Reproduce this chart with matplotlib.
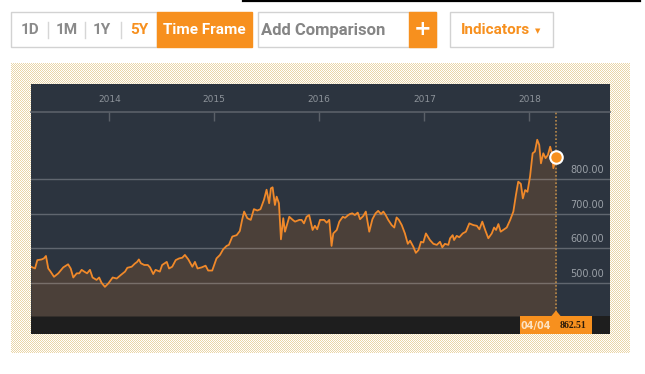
import numpy as np
import pandas as pd
import matplotlib
matplotlib.use("Agg")
import matplotlib.pyplot as plt
import matplotlib.transforms as mtransforms
from matplotlib.patches import Rectangle, Polygon

# price series (5Y, weekly-ish)
dates = [
    "2013-04-04", "2013-04-18", "2013-04-26", "2013-05-11", "2013-05-19", "2013-05-26",
    "2013-06-03", "2013-06-11", "2013-06-23", "2013-07-08", "2013-07-25", "2013-08-11",
    "2013-08-20", "2013-08-29", "2013-09-10", "2013-09-19", "2013-09-27", "2013-10-06",
    "2013-10-16", "2013-10-26", "2013-11-04", "2013-11-18", "2013-11-27", "2013-12-05",
    "2013-12-17", "2013-12-29", "2014-01-13", "2014-01-27", "2014-02-10", "2014-02-25",
    "2014-03-05", "2014-03-20", "2014-03-31", "2014-04-08", "2014-04-14", "2014-04-21",
    "2014-05-03", "2014-05-15", "2014-05-23", "2014-06-03", "2014-06-11", "2014-06-26",
    "2014-07-04", "2014-07-20", "2014-07-28", "2014-08-08", "2014-08-20", "2014-09-01",
    "2014-09-12", "2014-09-21", "2014-10-03", "2014-10-17", "2014-10-26", "2014-11-04",
    "2014-11-18", "2014-12-02", "2014-12-11", "2014-12-25", "2015-01-09", "2015-01-21",
    "2015-02-01", "2015-02-13", "2015-02-21", "2015-03-05", "2015-03-20", "2015-03-31",
    "2015-04-08", "2015-04-15", "2015-04-26", "2015-05-08", "2015-05-19", "2015-05-31",
    "2015-06-11", "2015-06-23", "2015-07-02", "2015-07-11", "2015-07-17", "2015-07-23",
    "2015-07-31", "2015-08-06", "2015-08-14", "2015-08-21", "2015-08-29", "2015-09-04",
    "2015-09-19", "2015-10-01", "2015-10-09", "2015-10-24", "2015-11-01", "2015-11-09",
    "2015-11-18", "2015-11-27", "2015-12-09", "2015-12-17", "2015-12-25", "2016-01-04",
    "2016-01-18", "2016-01-27", "2016-02-05", "2016-02-13", "2016-02-19", "2016-03-02",
    "2016-03-11", "2016-03-23", "2016-03-31", "2016-04-11", "2016-04-17", "2016-04-25",
    "2016-05-04", "2016-05-14", "2016-05-22", "2016-06-02", "2016-06-11", "2016-06-23",
    "2016-07-04", "2016-07-15", "2016-07-24", "2016-08-03", "2016-08-11", "2016-08-19",
    "2016-08-28", "2016-09-09", "2016-09-18", "2016-09-26", "2016-10-04", "2016-10-14",
    "2016-10-25", "2016-11-04", "2016-11-12", "2016-11-23", "2016-12-02", "2016-12-11",
    "2016-12-20", "2016-12-28", "2017-01-06", "2017-01-20", "2017-02-01", "2017-02-13",
    "2017-02-24", "2017-03-04", "2017-03-13", "2017-03-25", "2017-03-31", "2017-04-09",
    "2017-04-14", "2017-04-23", "2017-05-02", "2017-05-14", "2017-05-25", "2017-06-06",
    "2017-06-20", "2017-07-02", "2017-07-11", "2017-07-21", "2017-07-31", "2017-08-11",
    "2017-08-23", "2017-08-31", "2017-09-07", "2017-09-15", "2017-09-23", "2017-10-02",
    "2017-10-14", "2017-10-26", "2017-11-06", "2017-11-15", "2017-11-23", "2017-12-02",
    "2017-12-09", "2017-12-17", "2017-12-25", "2018-01-03", "2018-01-12", "2018-01-20",
    "2018-01-28", "2018-02-04", "2018-02-10", "2018-02-18", "2018-02-26", "2018-03-06",
    "2018-03-14", "2018-03-20", "2018-03-25", "2018-04-04",
]
prices = [
    547, 542, 566, 568, 571, 578,
    542, 533, 518, 528, 545, 554,
    542, 516, 528, 528, 538, 533,
    528, 538, 516, 509, 516, 501,
    489, 499, 516, 513, 523, 533,
    544, 547, 556, 561, 568, 557,
    552, 552, 545, 526, 538, 533,
    552, 561, 542, 547, 566, 571,
    573, 581, 568, 547, 561, 542,
    545, 550, 536, 536, 571, 581,
    597, 607, 610, 634, 638, 650,
    682, 706, 687, 682, 713, 709,
    713, 740, 769, 730, 773, 776,
    725, 749, 730, 626, 687, 648,
    691, 682, 677, 682, 682, 672,
    691, 696, 653, 665, 655, 682,
    682, 674, 682, 607, 643, 653,
    677, 691, 688, 696, 699, 701,
    696, 703, 684, 693, 706, 648,
    684, 701, 708, 699, 706, 696,
    682, 667, 660, 689, 682, 667,
    643, 613, 622, 605, 587, 595,
    619, 617, 643, 624, 613, 610,
    619, 603, 613, 610, 629, 638,
    624, 636, 632, 643, 648, 672,
    667, 665, 655, 677, 653, 629,
    643, 660, 653, 670, 648, 653,
    660, 682, 706, 754, 792, 786,
    744, 768, 763, 807, 874, 879,
    913, 898, 845, 874, 860, 869,
    893, 874, 831, 862.51,
]
year_ticks = ["2014", "2015", "2016", "2017", "2018"]
y_ticks = [500, 600, 700, 800]
buttons = ["1D", "1M", "1Y", "5Y"]
last_label = "04/04"
last_value = "862.51"

x = pd.to_datetime(dates)

ORANGE = "#f7901e"
DARK = "#2c343f"
FILL = "#4b4039"
LINE = "#f0892a"
GREY_TXT = "#8a8a8a"
NARROW = ["Liberation Sans Narrow", "Roboto", "DejaVu Sans"]

fig = plt.figure(figsize=(6.45, 3.74), dpi=100)
fig.patch.set_facecolor("white")

# background layer in pixel coordinates
bg = fig.add_axes([0, 0, 1, 1])
bg.set_xlim(0, 645)
bg.set_ylim(374, 0)
bg.axis("off")

bg.plot([243, 640], [1, 1], color="black", lw=1.6)

# button bar
bg.add_patch(Rectangle((11, 12), 146, 35, fc="white", ec="#d2d2d2", lw=1))
for lab, cx in zip(buttons, [30, 67, 102, 139]):
    bg.text(cx, 30, lab, ha="center", va="center", fontsize=11, fontweight="bold",
            family=NARROW, color=ORANGE if lab == "5Y" else GREY_TXT)
for sx in [48, 85, 121]:
    bg.plot([sx, sx], [22, 38], color="#d6d6d6", lw=1)
bg.add_patch(Rectangle((157, 12), 95, 35, fc=ORANGE, ec=ORANGE, lw=1))
bg.text(204, 30, "Time Frame", ha="center", va="center", fontsize=11, fontweight="bold",
        family=NARROW, color="white")
bg.add_patch(Rectangle((258, 12), 178, 35, fc="white", ec="#d2d2d2", lw=1))
bg.text(323, 30, "Add Comparison", ha="center", va="center", fontsize=12, fontweight="bold",
        family=NARROW, color="#858585")
bg.add_patch(Rectangle((409, 12), 27, 35, fc=ORANGE, ec=ORANGE, lw=1))
bg.text(422.5, 29, "+", ha="center", va="center", fontsize=15, fontweight="bold",
        color="white")
bg.add_patch(Rectangle((450, 12), 103, 35, fc="white", ec="#d2d2d2", lw=1))
bg.text(495, 30, "Indicators", ha="center", va="center", fontsize=11, fontweight="bold",
        family=NARROW, color=ORANGE)
bg.text(538, 31, "\u25bc", ha="center", va="center", fontsize=5, color=ORANGE)

# dotted frame texture
h, w = 290, 619
tex = np.ones((h, w, 3))
tan = np.array([0xea, 0xd6, 0xa8]) / 255
ii, jj = np.mgrid[0:h, 0:w]
tex[(ii + jj) % 2 == 0] = tan
bg.imshow(tex, extent=(11, 630, 353, 63), interpolation="none", aspect="auto", zorder=1)

# dark chart panel, header and footer strip
bg.add_patch(Rectangle((31, 84), 579, 32, fc=DARK, ec="none", zorder=2))
bg.add_patch(Rectangle((31, 315), 579, 19, fc="#1e1e1e", ec="none", zorder=2))

# main chart axes
ax = fig.add_axes([31 / 645, (374 - 316) / 374, 579 / 645, 204 / 374])
ax.set_facecolor(DARK)
ax.set_ylim(405, 993)
ax.set_xlim(pd.Timestamp("2013-04-04"), pd.Timestamp("2018-10-08"))

ax.fill_between(x, prices, 405, color=FILL, lw=0, zorder=2)
for v in y_ticks:
    ax.axhline(v, color="white", alpha=0.25, lw=1, zorder=3)
ax.plot(x, prices, color=LINE, lw=1.3, zorder=4)
ax.axvline(x[-1], color="#b8894a", lw=1.2, ls=(0, (1, 1.2)), zorder=5)
ax.plot([x[-1]], [prices[-1]], "o", ms=9, mfc=ORANGE, mec="white", mew=1.5, zorder=6)

ax.xaxis.tick_top()
ax.set_xticks(pd.to_datetime([y + "-01-01" for y in year_ticks]))
ax.set_xticklabels(year_ticks)
ax.tick_params(axis="x", direction="in", length=6.5, width=1, color="#5a6068",
               labelcolor="#8d939a", labelsize=6.5, pad=6)
ax.set_yticks([])
for s in ["left", "right", "bottom"]:
    ax.spines[s].set_visible(False)
ax.spines["top"].set_color("#5a6068")
ax.spines["top"].set_linewidth(1.2)

trans = mtransforms.blended_transform_factory(ax.transAxes, ax.transData)
for v in y_ticks:
    ax.text(0.99, v + 26, f"{v:.2f}", transform=trans, ha="right", va="center",
            fontsize=7, color="#9aa0a7", zorder=7)

# overlay for the value tag
top = fig.add_axes([0, 0, 1, 1])
top.set_xlim(0, 645)
top.set_ylim(374, 0)
top.axis("off")
top.patch.set_alpha(0)
top.add_patch(Rectangle((520, 316), 72, 18, fc=ORANGE, ec="none"))
top.add_patch(Polygon([[551, 316.5], [556, 310.5], [561, 316.5]], closed=True,
                      fc=ORANGE, ec="none"))
top.text(536, 325.5, last_label, ha="center", va="center", fontsize=7, fontweight="bold",
         color="#fde3c2")
top.text(573, 325.5, last_value, ha="center", va="center", fontsize=7, fontweight="bold",
         family=["Liberation Serif", "DejaVu Serif"], color="#2a1a0a")

fig.savefig("out.png", dpi=100)
